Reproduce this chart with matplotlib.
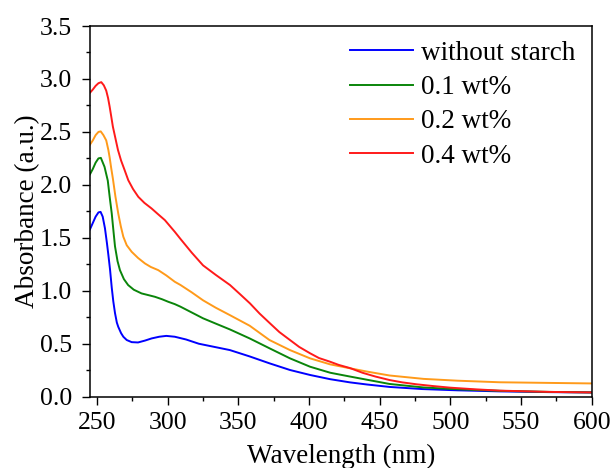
import matplotlib
matplotlib.use("Agg")
import matplotlib.pyplot as plt
from matplotlib.ticker import MultipleLocator

plt.rcParams['font.family'] = ['Liberation Serif', 'DejaVu Serif']

# valores
wl_blue = [245, 247, 249, 251, 252.5, 254, 255.6, 257, 258, 259.2, 260.4, 261.5, 262.7, 264, 265, 267,
           268.6, 271, 274.5, 279, 284, 288.6, 294, 299, 305, 313, 322, 333, 344, 358, 372, 386.5,
           400.7, 415, 429, 441, 457, 480, 505, 535, 570, 600]
abs_blue = [1.58, 1.64, 1.70, 1.74, 1.745, 1.70, 1.59, 1.45, 1.34, 1.20, 1.03, 0.90, 0.79, 0.70, 0.66,
            0.60, 0.566, 0.535, 0.515, 0.512, 0.53, 0.55, 0.566, 0.574, 0.566, 0.54, 0.50, 0.47, 0.44,
            0.38, 0.315, 0.252, 0.205, 0.165, 0.135, 0.115, 0.092, 0.072, 0.06, 0.05, 0.043, 0.04]

wl_green = [245, 247, 249, 251, 252.7, 255.3, 257.6, 259, 260.4, 261.5, 262.7, 264.5, 266.2, 269, 272,
            276, 281.5, 286, 291, 296, 300.4, 305, 309, 317, 325, 334, 344, 358, 372, 386.5, 400.7,
            415, 429, 441, 457, 481, 505, 535, 570, 600]
abs_green = [2.10, 2.15, 2.21, 2.25, 2.255, 2.17, 2.04, 1.88, 1.73, 1.58, 1.42, 1.28, 1.195, 1.11, 1.054,
             1.01, 0.975, 0.96, 0.943, 0.92, 0.896, 0.874, 0.85, 0.795, 0.74, 0.69, 0.635, 0.55, 0.457,
             0.362, 0.283, 0.226, 0.19, 0.16, 0.12, 0.087, 0.07, 0.055, 0.045, 0.04]

wl_orange = [245, 247, 249, 251, 252.6, 254.5, 256.5, 258, 258.9, 260, 261.2, 263, 265, 266.8, 268.6,
             271, 274.5, 279, 283.9, 288, 293.3, 299, 305, 309, 317, 325, 334, 344, 358, 372, 386.5,
             400.7, 415, 429, 441, 457, 481, 505, 535, 570, 600]
abs_orange = [2.38, 2.42, 2.47, 2.50, 2.505, 2.47, 2.42, 2.33, 2.26, 2.16, 2.06, 1.89, 1.73, 1.61, 1.51,
              1.43, 1.368, 1.31, 1.258, 1.225, 1.195, 1.145, 1.085, 1.055, 0.985, 0.91, 0.84, 0.77,
              0.67, 0.535, 0.44, 0.362, 0.305, 0.268, 0.237, 0.20, 0.168, 0.151, 0.136, 0.13, 0.125]

wl_red = [245, 247, 249, 251, 253, 254.8, 256.5, 257.8, 258.9, 260, 261.2, 263, 264.8, 267, 269.5,
          272.1, 275.5, 279.2, 283.5, 288.6, 293, 298, 305, 309, 317, 325, 334, 344.1, 351, 358.2,
          365, 372.4, 379, 386.5, 393, 400.7, 407, 414.9, 421, 429, 438, 447, 457, 466, 476, 488,
          500, 517, 535, 570, 600]
abs_red = [2.87, 2.90, 2.935, 2.96, 2.97, 2.94, 2.89, 2.82, 2.74, 2.65, 2.55, 2.44, 2.33, 2.23, 2.14,
           2.044, 1.96, 1.887, 1.83, 1.777, 1.725, 1.667, 1.557, 1.49, 1.36, 1.24, 1.15, 1.054, 0.97,
           0.881, 0.785, 0.692, 0.61, 0.535, 0.47, 0.41, 0.365, 0.33, 0.30, 0.27, 0.225, 0.19, 0.157,
           0.135, 0.117, 0.10, 0.085, 0.07, 0.057, 0.045, 0.04]

etiquetas = ['without starch', '0.1 wt%', '0.2 wt%', '0.4 wt%']
colores = ['#0000ff', '#0a850a', '#ff9a1a', '#ff1a1a']

fig = plt.figure(figsize=(6.1, 4.68), dpi=100)
ax = fig.add_axes([0.1475, 0.1524, 0.8225, 0.792])

series = [(wl_blue, abs_blue), (wl_green, abs_green), (wl_orange, abs_orange), (wl_red, abs_red)]
for (x, y), lab, c in zip(series, etiquetas, colores):
    ax.plot(x, y, color=c, lw=1.4, label=lab)

ax.set_xlim(245, 600)
ax.set_ylim(0, 3.5)
ax.xaxis.set_major_locator(MultipleLocator(50))
ax.xaxis.set_minor_locator(MultipleLocator(25))
ax.yaxis.set_major_locator(MultipleLocator(0.5))
ax.yaxis.set_minor_locator(MultipleLocator(0.25))
ax.yaxis.set_major_formatter(plt.FormatStrFormatter('%.1f'))

ax.tick_params(which='major', direction='out', length=6, width=1.0, labelsize=18.5, top=False, right=False)
ax.tick_params(which='minor', direction='out', length=3, width=1.0, top=False, right=False)
ax.tick_params(axis='y', pad=7)
ax.tick_params(axis='x', pad=5)
for s in ax.spines.values():
    s.set_linewidth(1.1)

ax.set_xlabel('Wavelength (nm)', fontsize=19.5, labelpad=7)
ax.set_ylabel('Absorbance (a.u.)', fontsize=19.5, labelpad=-0.5)

ax.legend(loc='upper right', frameon=False, fontsize=19.5, handlelength=2.3, handletextpad=0.3,
          labelspacing=0.35, borderaxespad=0.3, bbox_to_anchor=(1.005, 1.012))

plt.savefig('out.png', dpi=100)
